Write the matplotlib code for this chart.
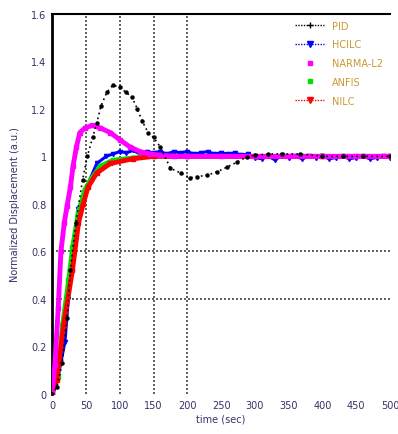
import numpy as np
import matplotlib
matplotlib.use("Agg")
import matplotlib.pyplot as plt
from matplotlib.lines import Line2D

# ---- data ----
t_pid = [0, 7, 15, 22, 27, 35, 45, 52, 60, 66, 72, 81, 90, 100, 109, 118, 126, 133, 142, 150,
         160, 175, 190, 204, 214, 229, 244, 259, 273, 288, 300, 320, 340, 367, 400, 430, 460, 500]
y_pid = [0, 0.03, 0.13, 0.32, 0.52, 0.72, 0.90, 1.00, 1.08, 1.14, 1.21, 1.27, 1.30, 1.29, 1.27, 1.25,
         1.20, 1.15, 1.10, 1.08, 1.04, 0.95, 0.93, 0.91, 0.915, 0.92, 0.935, 0.955, 0.975, 0.998,
         1.005, 1.01, 1.01, 1.01, 1.0, 1.0, 1.0, 1.0]

t_narma = [0, 4, 9, 13, 18, 22, 27, 31, 36, 41, 49, 59, 71, 86, 100, 115, 130, 145, 160, 180,
           200, 250, 300, 350, 400, 450, 500]
y_narma = [0, 0.12, 0.36, 0.60, 0.72, 0.79, 0.87, 0.96, 1.04, 1.10, 1.12, 1.13, 1.12, 1.10, 1.07,
           1.04, 1.02, 1.01, 1.005, 1.0, 1.0, 1.0, 1.0, 1.0, 1.0, 1.0, 1.0]

t_hcilc = [0, 9, 19, 24, 30, 39, 51, 66, 80, 90, 100, 110, 120, 130, 140, 150, 160, 170, 180, 190,
           200, 210, 220, 230, 240, 250, 260, 270, 280, 290, 300, 310, 320, 330, 340, 350, 360,
           370, 380, 390, 400, 410, 420, 430, 440, 450, 460, 470, 480, 490, 500]
y_hcilc = [0, 0.075, 0.22, 0.40, 0.60, 0.78, 0.87, 0.97, 1.0, 1.01, 1.02, 1.015, 1.025, 1.01, 1.02,
           1.015, 1.02, 1.01, 1.02, 1.015, 1.02, 1.01, 1.015, 1.02, 1.01, 1.015, 1.01, 1.015, 1.005,
           1.01, 0.995, 0.99, 1.0, 0.985, 1.005, 0.995, 1.0, 0.99, 1.0, 0.995, 1.0, 0.99, 0.995,
           1.0, 0.99, 0.995, 1.0, 0.99, 0.995, 1.0, 0.995]

t_anfis = [0, 8, 15, 24, 30, 38, 48, 56, 71, 90, 120, 150, 200, 300, 400, 500]
y_anfis = [0, 0.07, 0.29, 0.48, 0.62, 0.76, 0.86, 0.90, 0.96, 0.985, 0.995, 1.0, 1.0, 1.0, 1.0, 1.0]

t_nilc = [0, 7, 17, 30, 39, 46, 53, 66, 86, 120, 150, 200, 300, 400, 500]
y_nilc = [0, 0.06, 0.29, 0.52, 0.72, 0.80, 0.87, 0.93, 0.97, 0.99, 1.0, 1.0, 1.0, 1.0, 1.0]

labels = ["PID", "HCILC", "NARMA-L2", "ANFIS", "NILC"]
x_ticks = [0, 50, 100, 150, 200, 250, 300, 350, 400, 450, 500]
y_ticks = [0, 0.2, 0.4, 0.6, 0.8, 1, 1.2, 1.4, 1.6]
y_ticklabels = ["0", "0.2", "0.4", "0.6", "0.8", "1", "1.2", "1.4", "1.6"]
grid_x = [50, 100, 150, 200]
grid_y = [0.4, 0.6]

fig = plt.figure(figsize=(3.98, 4.35), dpi=100)
ax = fig.add_axes([0.131, 0.092, 0.849, 0.874])

for gx in grid_x:
    ax.axvline(gx, color="#444444", ls=(0, (1.2, 1.2)), lw=1.2, zorder=1)
for gy in grid_y:
    ax.axhline(gy, color="#444444", ls=(0, (1.2, 1.2)), lw=1.2, zorder=1)

ax.plot(t_nilc, y_nilc, color="red", lw=3.5, marker="s", ms=3, zorder=4)
ax.plot(t_anfis, y_anfis, color="#00e000", lw=3.0, marker="s", ms=3, zorder=3)
ax.plot(t_hcilc, y_hcilc, color="blue", lw=2.2, marker="v", ms=3, zorder=2)
ax.plot(t_narma, y_narma, color="magenta", lw=3.5, marker="s", ms=3, zorder=5)
ax.plot(t_pid, y_pid, color="black", ls=(0, (1, 2)), lw=1.2, marker="o", ms=2.2, zorder=6)

ax.set_xlim(0, 500)
ax.set_ylim(0, 1.6)
ax.set_xticks(x_ticks)
ax.set_yticks(y_ticks)
ax.set_yticklabels(y_ticklabels)
ax.tick_params(labelsize=7, colors="#333366", length=0, pad=4)
ax.spines["right"].set_visible(False)
ax.spines["bottom"].set_visible(False)
ax.spines["left"].set_linewidth(2)
ax.spines["top"].set_linewidth(1.5)
ax.set_xlabel("time (sec)", fontsize=7, color="#333366", labelpad=3)
ax.set_ylabel("Normalized Displacement (a.u.)", fontsize=7, color="#333366", labelpad=8)

handles = [
    Line2D([], [], color="black", ls=(0, (1, 1)), lw=1, marker="+", ms=5),
    Line2D([], [], color="blue", ls=(0, (1, 1)), lw=1, marker="v", ms=4),
    Line2D([], [], color="magenta", ls="none", marker="s", ms=3),
    Line2D([], [], color="#00e000", ls="none", marker="s", ms=3),
    Line2D([], [], color="red", ls=(0, (1, 1)), lw=1, marker="v", ms=4),
]
leg = ax.legend(handles, labels, loc="upper right", frameon=False, fontsize=7,
                handlelength=3, labelspacing=0.9, borderaxespad=0.3)
for txt in leg.get_texts():
    txt.set_color("#cc9933")

fig.savefig("out.png", dpi=100)
